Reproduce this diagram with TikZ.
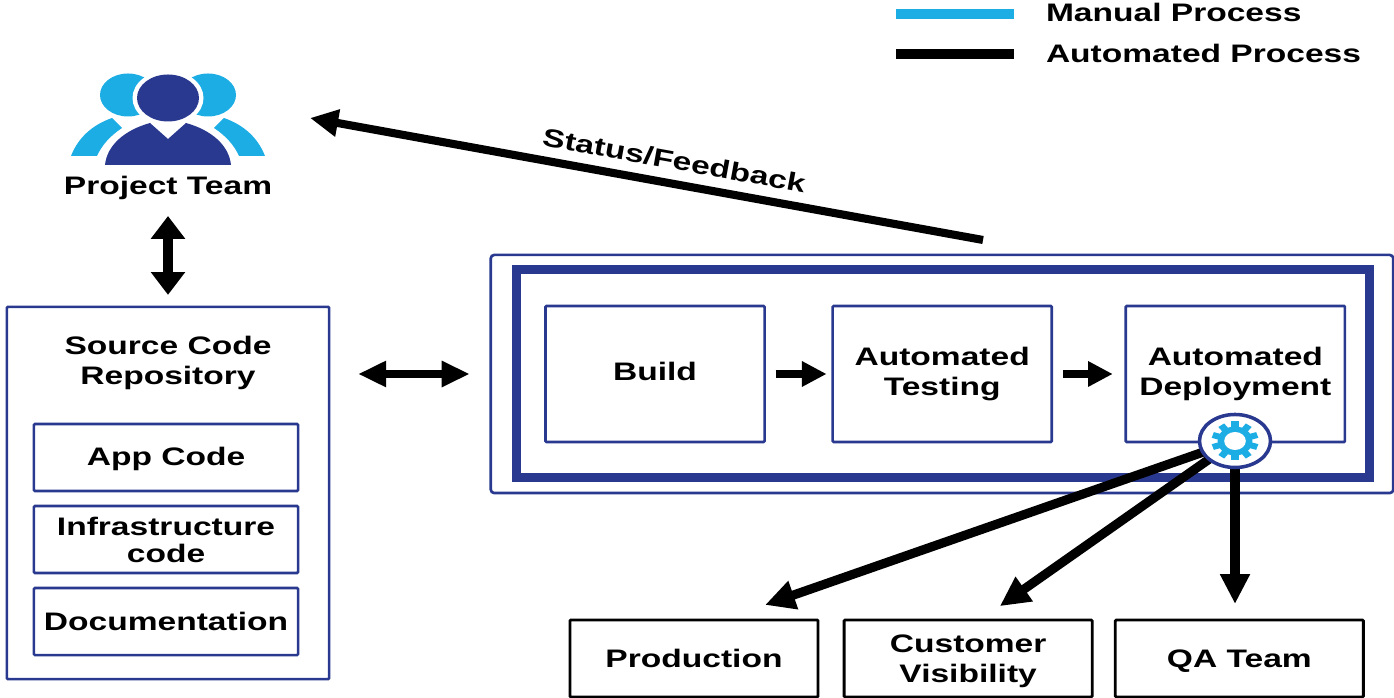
\documentclass[tikz,border=0pt]{standalone}
\usepackage{fontspec}
\usetikzlibrary{shapes.geometric, arrows.meta, calc, positioning}
\newfontfamily\labelfont[FakeStretch=1.325]{Liberation Sans Bold}
\definecolor{navy}{HTML}{2A3990}
\definecolor{skyblue}{HTML}{1CADE4}
\tikzstyle{label} = [font=\labelfont\fontsize{7.2}{8.5}\selectfont, text=black, align=center, inner sep=0pt, outer sep=0pt]
\tikzstyle{block} = [label, rectangle, draw=navy, line width=0.75pt, rounded corners=0.3pt, minimum width=2.19cm, minimum height=1.36cm]
\tikzstyle{subblock} = [block, text depth=0pt, minimum width=2.64cm, minimum height=0.67cm]
\tikzstyle{target} = [label, rectangle, draw=black, line width=0.8pt, rounded corners=0.3pt, text depth=0pt, minimum width=2.48cm, minimum height=0.77cm]
\tikzstyle{line} = [draw, line width=2.3pt, -{Triangle[length=8pt, width=7.4pt]}]
\tikzstyle{gearline} = [draw, line width=2.6pt, -{Triangle[length=8.5pt, width=8pt]}]
\tikzstyle{stepline} = [draw, line width=2.1pt, -{Triangle[length=7pt, width=6.8pt]}]
\begin{document}
\begin{tikzpicture}[x=0.01cm, y=-0.01cm]
        \useasboundingbox (0,0) rectangle (1394,698);

        % legend
        \coordinate (manualstart) at (896,14);
        \coordinate (manualend) at (1014,14);
        \coordinate (autostart) at (896,54);
        \coordinate (autoend) at (1014,54);
        \draw[skyblue, line width=2.6pt] (manualstart) -- (manualend);
        \draw[black, line width=2.6pt] (autostart) -- (autoend);
        \node[label, anchor=west] (manual) at (1046,12.5) {Manual Process};
        \node[label, anchor=west] (auto) at (1046,53.5) {Automated Process};

        % project team icon
        \fill[skyblue] (128,95) ellipse (28 and 21.5);
        \fill[skyblue] (208,95) ellipse (28 and 21.5);
        \fill[white] (168,98) ellipse (35.5 and 27.5);
        \fill[navy] (168,98) ellipse (31 and 23.5);
        \fill[skyblue] (71,156) .. controls (78,138) and (92,125) .. (112,118) -- (122,128) .. controls (110,136) and (102,145) .. (97,156) -- cycle;
        \fill[skyblue] (265,156) .. controls (258,138) and (244,125) .. (224,118) -- (214,128) .. controls (226,136) and (234,145) .. (239,156) -- cycle;
        \fill[navy] (105,165) .. controls (107,145) and (125,130) .. (150,123) -- (168,139) -- (186,123) .. controls (211,130) and (229,145) .. (231,165) -- cycle;
        \node[label, text depth=0pt, minimum height=0.24cm] (team) at (168,185) {Project Team};

        % repository
        \node[block, minimum width=3.22cm, minimum height=3.72cm] (source) at (168,493) {};
        \node[label, text depth=0pt] (sourcetitle) at (168,360) {Source Code\\Repository};
        \node[subblock, text depth=0.5pt] (app) at (166,457.5) {App Code};
        \node[subblock, below=0.15cm of app] (infra) {Infrastructure\\[-0.8pt]code};
        \node[subblock, below=0.15cm of infra] (docs) {Documentation};

        % pipeline
        \node[rectangle, draw=navy, line width=0.75pt, rounded corners=1pt, outer sep=0pt, minimum width=9.02cm, minimum height=2.38cm] (pipeline) at (942,374) {};
        \node[rectangle, draw=navy, line width=2.6pt, outer sep=0pt, minimum width=8.52cm, minimum height=2.08cm] (stage) at (943,373.3) {};
        \node[block, text depth=1.4pt] (build) at (655,374) {Build};
        \node[block, right=0.68cm of build] (testing) {Automated\\Testing};
        \node[block, right=0.74cm of testing] (deploy) {Automated\\Deployment};
        \path[stepline, shorten <=0.11cm, shorten >=0.06cm] (build) -- (testing);
        \path[stepline, shorten <=0.11cm, shorten >=0.13cm] (testing) -- (deploy);

        % targets
        \node[target] (production) at (694,658.5) {Production};
        \node[target, right=0.26cm of production] (customer) {Customer\\Visibility};
        \node[target, right=0.23cm of customer] (qa) {QA Team};

        % connectors
        \path[draw, line width=2.6pt, {Triangle[length=6.5pt, width=9.4pt]}-{Triangle[length=6.5pt, width=9.4pt]}, shorten <=0.19cm, shorten >=0.12cm] (team) -- (source);
        \path[draw, line width=2.2pt, {Triangle[length=8pt, width=7pt]}-{Triangle[length=8pt, width=7pt]}, shorten <=0.29cm, shorten >=0.21cm] (pipeline.west -| source.east) -- (pipeline.west);

        \coordinate (statusstart) at (983,240);
        \coordinate (statusend) at (310,118);
        \path[line] (statusstart) -- node[label, sloped, above=0.14cm, pos=0.465] (status) {Status/Feedback} (statusend);

        \coordinate (gearpoint) at (1235,441);
        \path[gearline, shorten >=0.456cm] (gearpoint) -- ([xshift=0.28cm]production.north);
        \path[gearline, shorten >=0.24cm] (gearpoint) -- ([xshift=0.12cm]customer.north);
        \path[gearline, shorten >=0.16cm] (gearpoint) -- (qa.north -| gearpoint);

        % gear
        \node[ellipse, draw=navy, fill=white, line width=1pt, outer sep=0pt, minimum width=0.71cm, minimum height=0.53cm, inner sep=0pt] (gear) at (gearpoint) {};
        \begin{scope}[shift={(gear)}, xscale=1.2]
            \foreach \a in {0,36,...,144}
                \fill[skyblue, rotate=\a] (-3,-19.5) rectangle (3,19.5);
            \fill[skyblue] (0,0) circle (14.5);
            \fill[white] (0,0) circle (9);
        \end{scope}
\end{tikzpicture}
\end{document}
